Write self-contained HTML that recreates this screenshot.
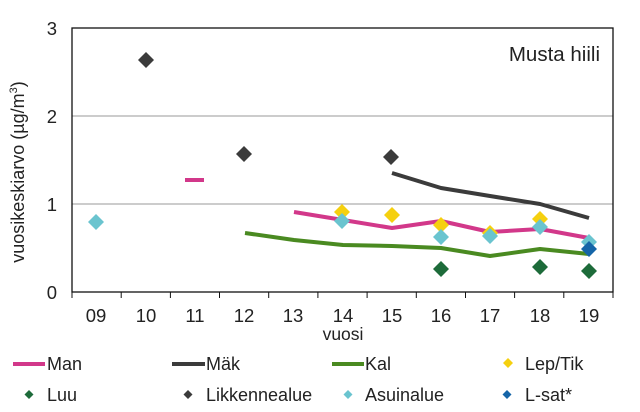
<!DOCTYPE html>
<html><head><meta charset="utf-8"><style>body{margin:0;background:#fff}svg{display:block}text{font-family:"Liberation Sans",Arial,sans-serif;fill:#222}</style></head><body>
<svg width="640" height="412" viewBox="0 0 640 412">
<line x1="72" y1="116" x2="613" y2="116" stroke="#999" stroke-width="1"/>
<line x1="72" y1="204" x2="613" y2="204" stroke="#999" stroke-width="1"/>
<rect x="72" y="28" width="541" height="264" fill="none" stroke="#111" stroke-width="1.3"/>
<g stroke="#111" stroke-width="1">
<line x1="72" y1="292" x2="72" y2="298"/><line x1="121.2" y1="292" x2="121.2" y2="298"/><line x1="170.4" y1="292" x2="170.4" y2="298"/><line x1="219.5" y1="292" x2="219.5" y2="298"/><line x1="268.7" y1="292" x2="268.7" y2="298"/><line x1="317.9" y1="292" x2="317.9" y2="298"/><line x1="367.1" y1="292" x2="367.1" y2="298"/><line x1="416.3" y1="292" x2="416.3" y2="298"/><line x1="465.5" y1="292" x2="465.5" y2="298"/><line x1="514.6" y1="292" x2="514.6" y2="298"/><line x1="563.8" y1="292" x2="563.8" y2="298"/><line x1="613" y1="292" x2="613" y2="298"/>
</g>
<g font-size="18.5" text-anchor="middle">
<text x="96" y="322">09</text><text x="146" y="322">10</text><text x="195" y="322">11</text><text x="244" y="322">12</text><text x="293" y="322">13</text><text x="343" y="322">14</text><text x="392" y="322">15</text><text x="441" y="322">16</text><text x="490" y="322">17</text><text x="540" y="322">18</text><text x="589" y="322">19</text>
<text x="343" y="340" font-size="17.5">vuosi</text>
</g>
<g font-size="18.5" text-anchor="end">
<text x="57" y="35">3</text><text x="57" y="123">2</text><text x="57" y="211">1</text><text x="57" y="299">0</text>
</g>
<text transform="translate(24,172) rotate(-90)" font-size="18" text-anchor="middle">vuosikeskiarvo (µg/m<tspan font-size="11" dy="-7">3</tspan><tspan dy="7">)</tspan></text>
<text x="600" y="61" font-size="20.5" text-anchor="end">Musta hiili</text>
<g fill="none" stroke-width="4" stroke-linejoin="round">
<polyline points="392,173 441,188 490,196 540,204 589,218" stroke="#3b3b3b"/>
<polyline points="185,180 204,180" stroke="#d2388a"/>
<polyline points="294,212 343,220 392,228 441,221 490,232 540,229 589,238" stroke="#d2388a"/>
<polyline points="245,233 294,240 343,245 392,246 441,248 490,256 540,249 589,254" stroke="#4a8a21"/>
</g>
<g>
<path d="M146,52l8,8l-8,8l-8,-8z M244,146l8,8l-8,8l-8,-8z M391,149l8,8l-8,8l-8,-8z" fill="#3b3b3b"/>
<path d="M342,204l8,8l-8,8l-8,-8z M392,207l8,8l-8,8l-8,-8z M441,217l8,8l-8,8l-8,-8z M490,225l8,8l-8,8l-8,-8z M540,211l8,8l-8,8l-8,-8z" fill="#f5d00f"/>
<path d="M96,214l8,8l-8,8l-8,-8z M342,213l8,8l-8,8l-8,-8z M441,229l8,8l-8,8l-8,-8z M490,228l8,8l-8,8l-8,-8z M540,219l8,8l-8,8l-8,-8z M589,234l8,8l-8,8l-8,-8z" fill="#6ac4cf"/>
<path d="M441,261l8,8l-8,8l-8,-8z M540,259l8,8l-8,8l-8,-8z M589,263l8,8l-8,8l-8,-8z" fill="#1d6b3a"/>
<path d="M589,241l8,8l-8,8l-8,-8z" fill="#1565a8"/>
</g>
<g font-size="18">
<line x1="13" y1="364" x2="45" y2="364" stroke="#d2388a" stroke-width="4"/><text x="47" y="370">Man</text>
<line x1="172" y1="364" x2="205" y2="364" stroke="#3b3b3b" stroke-width="4"/><text x="206" y="370">Mäk</text>
<line x1="332" y1="364" x2="364" y2="364" stroke="#4a8a21" stroke-width="4"/><text x="365" y="370">Kal</text>
<path d="M508,358l5,5l-5,5l-5,-5z" fill="#f5d00f"/><text x="525" y="370">Lep/Tik</text>
<path d="M29,390l4.5,4.5l-4.5,4.5l-4.5,-4.5z" fill="#1d6b3a"/><text x="47" y="401">Luu</text>
<path d="M188,390l4.5,4.5l-4.5,4.5l-4.5,-4.5z" fill="#3b3b3b"/><text x="206" y="401">Likkennealue</text>
<path d="M348,390l4.5,4.5l-4.5,4.5l-4.5,-4.5z" fill="#6ac4cf"/><text x="365" y="401">Asuinalue</text>
<path d="M507,390l4.5,4.5l-4.5,4.5l-4.5,-4.5z" fill="#1565a8"/><text x="525" y="401">L-sat*</text>
</g>
</svg>
</body></html>
